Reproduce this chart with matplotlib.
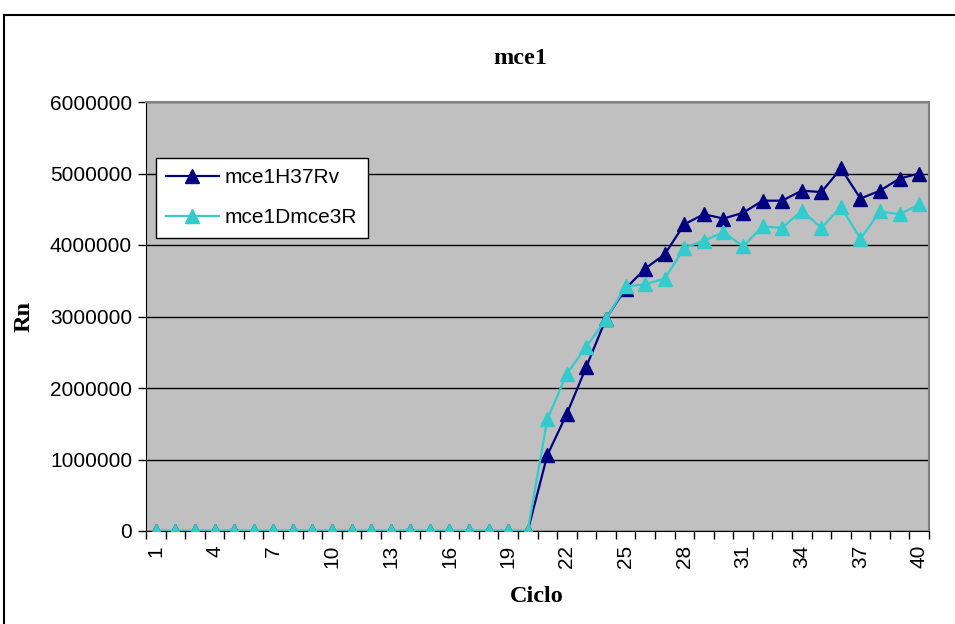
import numpy as np
import matplotlib
matplotlib.use("Agg")
import matplotlib.pyplot as plt
from matplotlib.lines import Line2D

# ciclos y valores Rn
ciclos = np.arange(1, 41)
h37rv = [0] * 20 + [1060000, 1640000, 2300000, 2970000, 3390000, 3670000, 3870000,
                    4290000, 4430000, 4370000, 4450000, 4620000, 4620000, 4760000,
                    4740000, 5070000, 4650000, 4760000, 4930000, 5000000]
dmce3r = [0] * 20 + [1560000, 2200000, 2580000, 2960000, 3420000, 3450000, 3530000,
                     3960000, 4060000, 4180000, 3980000, 4260000, 4240000, 4480000,
                     4240000, 4530000, 4090000, 4470000, 4430000, 4570000]
xtick_labels = [str(c) for c in range(1, 41, 3)]
yticks = [0, 1000000, 2000000, 3000000, 4000000, 5000000, 6000000]

sans = "Liberation Sans"
serif = "Liberation Serif"

fig = plt.figure(figsize=(9.55, 6.24), dpi=100)
ax = fig.add_axes([146 / 955, 93 / 624, 783 / 955, 429 / 624])
ax.set_facecolor("#C0C0C0")

ax.plot(ciclos, h37rv, color="#000080", marker="^", ms=10.5, lw=1.6, label="mce1H37Rv", zorder=3)
ax.plot(ciclos, dmce3r, color="#33CCCC", marker="^", ms=10.5, lw=1.6, label="mce1Dmce3R", zorder=4)

ax.set_xlim(0.5, 40.5)
ax.set_ylim(0, 6000000)
ax.set_yticks(yticks)
ax.set_yticklabels([str(v) for v in yticks], fontfamily=sans, fontsize=15)
ax.yaxis.grid(True, color="black", lw=1)
ax.set_axisbelow(True)

ax.set_xticks(range(1, 41, 3))
ax.set_xticklabels(xtick_labels, rotation=90, fontfamily=sans, fontsize=15)
ax.set_xticks(np.arange(0.5, 41, 1), minor=True)
ax.tick_params(axis="x", which="major", length=0, pad=10)
ax.tick_params(axis="x", which="minor", length=6, width=1, color="black", direction="out")
ax.tick_params(axis="y", length=6, width=1, direction="out", pad=4)

for s in ["top", "right"]:
    ax.spines[s].set_color("#808080")
    ax.spines[s].set_linewidth(1.5)
ax.spines["left"].set_color("black")
ax.spines["bottom"].set_color("black")

fig.text(520 / 955, 1 - 59 / 624, "mce1", ha="center", va="center",
         fontfamily=serif, fontweight="bold", fontsize=17.5)
fig.text(537 / 955, 1 - 596 / 624, "Ciclo", ha="center", va="center",
         fontfamily=serif, fontweight="bold", fontsize=17.5)
fig.text(24 / 955, 1 - 317 / 624, "Rn", ha="center", va="center", rotation=90,
         fontfamily=serif, fontweight="bold", fontsize=17.5)

leg = ax.legend(loc="upper left", bbox_to_anchor=(156 / 955, 1 - 158 / 624),
                bbox_transform=fig.transFigure, prop={"family": sans, "size": 15},
                frameon=True, fancybox=False, framealpha=1, edgecolor="black",
                borderpad=0.5, handlelength=2.5, handletextpad=0.3,
                labelspacing=1.0, borderaxespad=0)
leg.get_frame().set_linewidth(1)

# borde del grafico
fig.add_artist(Line2D([4 / 955, 4 / 955], [0, 1 - 15 / 624], color="black", lw=1.5,
                      transform=fig.transFigure))
fig.add_artist(Line2D([4 / 955, 1], [1 - 15 / 624, 1 - 15 / 624], color="black", lw=1.5,
                      transform=fig.transFigure))

fig.savefig("out.png", dpi=100)
